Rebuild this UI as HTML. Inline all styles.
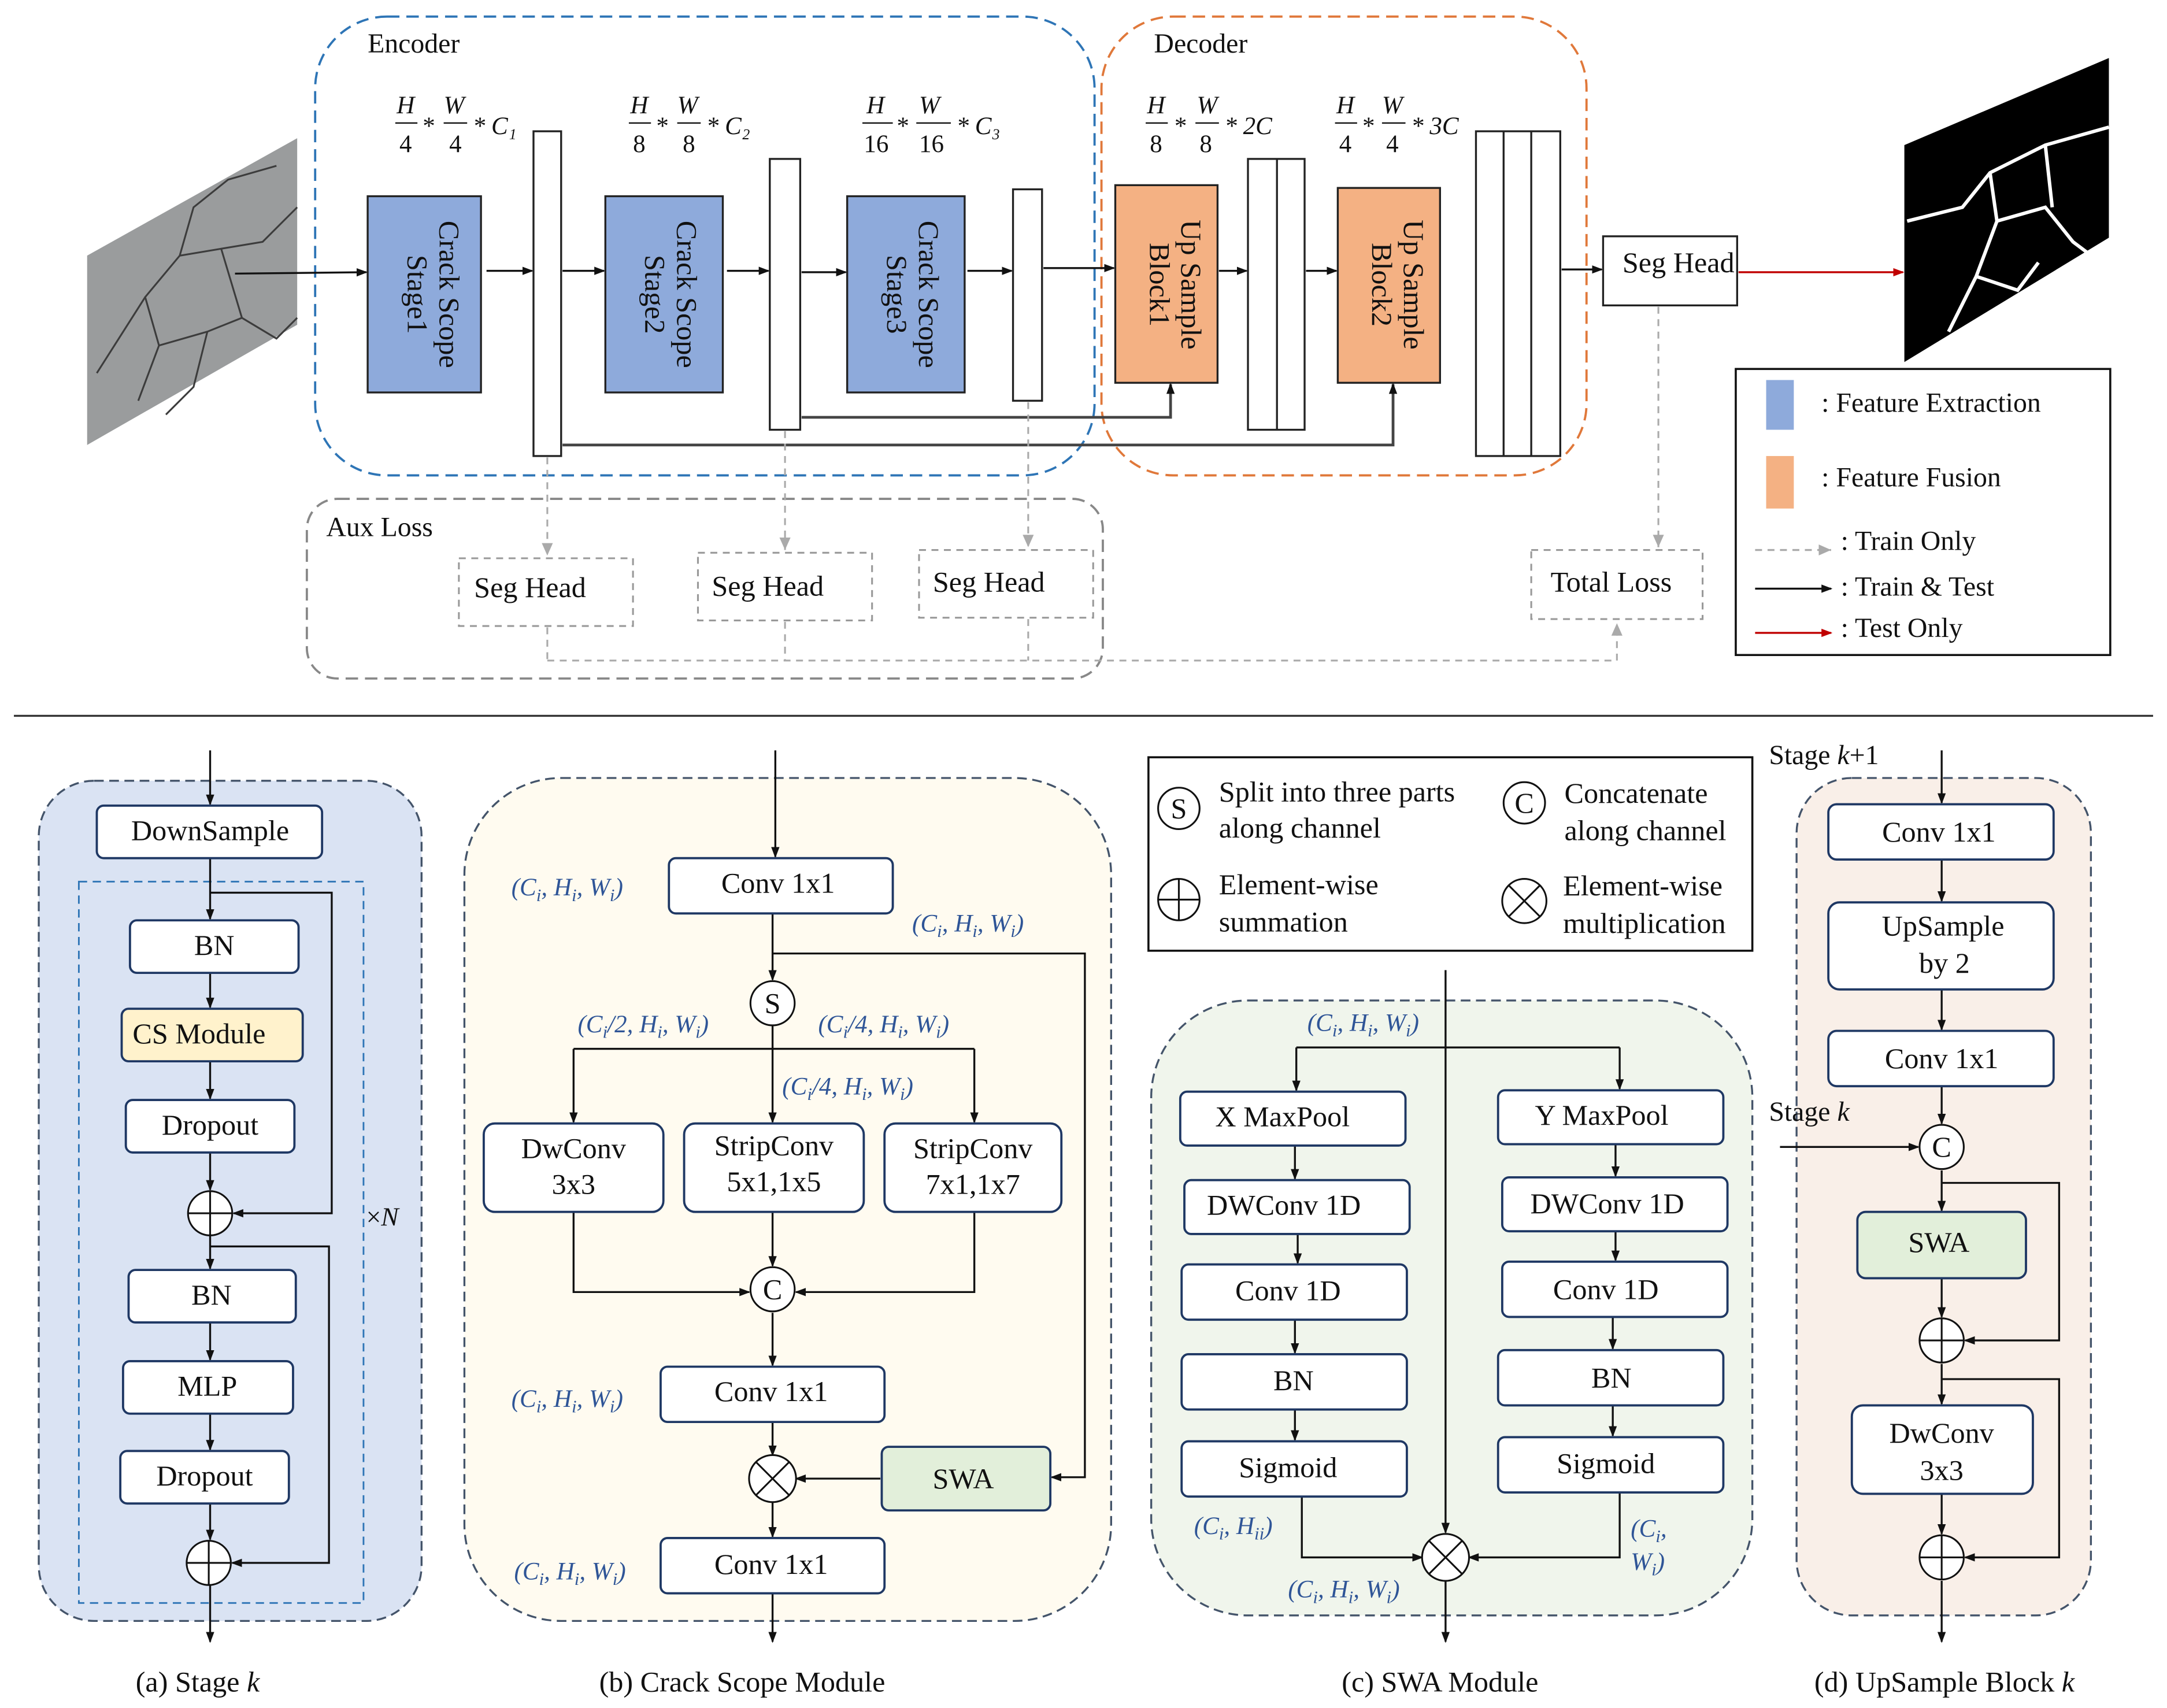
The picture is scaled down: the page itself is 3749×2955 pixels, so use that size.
<!DOCTYPE html>
<html><head><meta charset="utf-8"><style>
html,body{margin:0;padding:0;background:#fff}
svg{display:block}
text{font-family:"Liberation Serif",serif;fill:#111}
.b{fill:#fff;stroke:#1f3864;stroke-width:1.6}
.l{stroke:#111;stroke-width:1.4;fill:none}
.bl{font-style:italic;font-size:18px}
.bl text{fill:#2f5597}
</style></head><body>
<svg width="3749" height="2955" viewBox="0 0 1568 1236" xmlns="http://www.w3.org/2000/svg">
<defs>
<marker id="a" markerWidth="8" markerHeight="8" refX="7" refY="4" orient="auto" markerUnits="userSpaceOnUse"><path d="M0,1 L8,4 L0,7z" fill="#111"/></marker>
<marker id="g" markerWidth="10" markerHeight="10" refX="9" refY="5" orient="auto" markerUnits="userSpaceOnUse"><path d="M0,1 L9,5 L0,9z" fill="#aaa"/></marker>
<marker id="r" markerWidth="8" markerHeight="8" refX="7" refY="4" orient="auto" markerUnits="userSpaceOnUse"><path d="M0,1 L8,4 L0,7z" fill="#c00000"/></marker>
</defs>
<rect width="1568" height="1236" fill="#fff"/>

<!-- input crack image -->
<polygon points="63,185 215,100 215,235 63,322" fill="#9a9c9d"/>
<g stroke="#3c3c3c" stroke-width="1.3" fill="none">
<path d="M100,290 L115,250 L105,215 L130,185 L160,180 L190,175 L215,150"/>
<path d="M130,185 L140,150 L165,130 L200,120"/>
<path d="M115,250 L150,240 L175,230 L200,245 L215,230"/>
<path d="M150,240 L140,280 L120,300"/>
<path d="M160,180 L175,230"/>
<path d="M70,270 L105,215"/>
</g>

<!-- encoder / decoder -->
<rect x="228" y="12" width="564" height="332" rx="52" fill="none" stroke="#2e75b6" stroke-width="1.6" stroke-dasharray="9,5"/>
<rect x="797" y="12" width="351" height="332" rx="52" fill="none" stroke="#e0783a" stroke-width="1.6" stroke-dasharray="9,5"/>
<text x="266" y="38" font-size="20">Encoder</text>
<text x="835" y="38" font-size="20">Decoder</text>

<!-- size labels -->
<g font-size="18" font-style="italic">
<text x="287" y="82">H</text><text x="321" y="82">W</text>
<line x1="286" y1="89" x2="302" y2="89" stroke="#111"/><line x1="321" y1="89" x2="338" y2="89" stroke="#111"/>
<text x="289" y="110" font-style="normal">4</text><text x="325" y="110" font-style="normal">4</text>
<text x="305" y="97">*</text><text x="342" y="97">* C₁</text>
<text x="456" y="82">H</text><text x="490" y="82">W</text>
<line x1="455" y1="89" x2="471" y2="89" stroke="#111"/><line x1="490" y1="89" x2="507" y2="89" stroke="#111"/>
<text x="458" y="110" font-style="normal">8</text><text x="494" y="110" font-style="normal">8</text>
<text x="474" y="97">*</text><text x="511" y="97">* C₂</text>
<text x="627" y="82">H</text><text x="665" y="82">W</text>
<line x1="624" y1="89" x2="646" y2="89" stroke="#111"/><line x1="663" y1="89" x2="688" y2="89" stroke="#111"/>
<text x="625" y="110" font-style="normal">16</text><text x="665" y="110" font-style="normal">16</text>
<text x="648" y="97">*</text><text x="692" y="97">* C₃</text>
<text x="830" y="82">H</text><text x="866" y="82">W</text>
<line x1="829" y1="89" x2="845" y2="89" stroke="#111"/><line x1="865" y1="89" x2="882" y2="89" stroke="#111"/>
<text x="832" y="110" font-style="normal">8</text><text x="868" y="110" font-style="normal">8</text>
<text x="849" y="97">*</text><text x="886" y="97">* 2C</text>
<text x="967" y="82">H</text><text x="1000" y="82">W</text>
<line x1="966" y1="89" x2="982" y2="89" stroke="#111"/><line x1="1000" y1="89" x2="1017" y2="89" stroke="#111"/>
<text x="969" y="110" font-style="normal">4</text><text x="1003" y="110" font-style="normal">4</text>
<text x="985" y="97">*</text><text x="1021" y="97">* 3C</text>
</g>

<!-- stages -->
<g stroke="#222" stroke-width="1.4">
<rect x="266" y="142" width="82" height="142" fill="#8eaadb"/>
<rect x="438" y="142" width="85" height="142" fill="#8eaadb"/>
<rect x="613" y="142" width="85" height="142" fill="#8eaadb"/>
<rect x="807" y="134" width="74" height="143" fill="#f4b183"/>
<rect x="968" y="136" width="74" height="141" fill="#f4b183"/>
<rect x="386" y="95" width="20" height="235" fill="#fff"/>
<rect x="557" y="115" width="22" height="196" fill="#fff"/>
<rect x="733" y="137" width="21" height="153" fill="#fff"/>
<rect x="903" y="115" width="41" height="196" fill="#fff"/>
<line x1="924" y1="115" x2="924" y2="311"/>
<rect x="1068" y="95" width="61" height="235" fill="#fff"/>
<line x1="1088" y1="95" x2="1088" y2="330"/><line x1="1108" y1="95" x2="1108" y2="330"/>
<rect x="1160" y="171" width="97" height="50" fill="#fff"/>
</g>
<g font-size="21">
<text transform="translate(318,213) rotate(90)" text-anchor="middle">Crack Scope</text>
<text transform="translate(295,213) rotate(90)" text-anchor="middle">Stage1</text>
<text transform="translate(490,213) rotate(90)" text-anchor="middle">Crack Scope</text>
<text transform="translate(467,213) rotate(90)" text-anchor="middle">Stage2</text>
<text transform="translate(665,213) rotate(90)" text-anchor="middle">Crack Scope</text>
<text transform="translate(642,213) rotate(90)" text-anchor="middle">Stage3</text>
<text transform="translate(855,206) rotate(90)" text-anchor="middle">Up Sample</text>
<text transform="translate(832,206) rotate(90)" text-anchor="middle">Block1</text>
<text transform="translate(1016,206) rotate(90)" text-anchor="middle">Up Sample</text>
<text transform="translate(993,206) rotate(90)" text-anchor="middle">Block2</text>
<text x="1174" y="197">Seg Head</text>
</g>
<g class="l" marker-end="url(#a)">
<line x1="170" y1="198" x2="265" y2="197"/>
<line x1="352" y1="196" x2="385" y2="196"/>
<line x1="407" y1="196" x2="437" y2="196"/>
<line x1="526" y1="196" x2="556" y2="196"/>
<line x1="580" y1="197" x2="612" y2="197"/>
<line x1="700" y1="196" x2="732" y2="196"/>
<line x1="755" y1="194" x2="806" y2="194"/>
<line x1="882" y1="196" x2="902" y2="196"/>
<line x1="945" y1="196" x2="967" y2="196"/>
<line x1="1130" y1="195" x2="1159" y2="195"/>
<polyline points="580,302 847,302 847,278" stroke="#444" stroke-width="2"/>
<polyline points="407,322 1008,322 1008,278" stroke="#444" stroke-width="2"/>
</g>
<line x1="1258" y1="197" x2="1377" y2="197" stroke="#c00000" stroke-width="1.4" marker-end="url(#r)"/>

<!-- output mask -->
<polygon points="1378,105 1526,42 1526,172 1378,262" fill="#000"/>
<g stroke="#fff" stroke-width="2.5" fill="none">
<path d="M1380,160 L1420,150 L1440,125 L1480,105 L1526,92"/>
<path d="M1440,125 L1445,160 L1430,200 L1410,240"/>
<path d="M1445,160 L1480,150 L1500,175 L1520,190"/>
<path d="M1480,105 L1485,150"/>
<path d="M1430,200 L1460,210 L1475,190"/>
</g>

<!-- legend -->
<rect x="1256" y="267" width="271" height="207" fill="#fff" stroke="#111" stroke-width="1.5"/>
<rect x="1278" y="275" width="20" height="36" fill="#8eaadb"/>
<rect x="1278" y="330" width="20" height="38" fill="#f4b183"/>
<g font-size="20">
<text x="1318" y="298">: Feature Extraction</text>
<text x="1318" y="352">: Feature Fusion</text>
<text x="1332" y="398">: Train Only</text>
<text x="1332" y="431">: Train &amp; Test</text>
<text x="1332" y="461">: Test Only</text>
</g>
<line x1="1270" y1="398" x2="1325" y2="398" stroke="#aaa" stroke-width="1.4" stroke-dasharray="5,4" marker-end="url(#g)"/>
<line x1="1270" y1="426" x2="1325" y2="426" class="l" marker-end="url(#a)"/>
<line x1="1270" y1="458" x2="1325" y2="458" stroke="#c00000" stroke-width="1.4" marker-end="url(#r)"/>

<!-- aux loss -->
<rect x="222" y="361" width="576" height="130" rx="22" fill="none" stroke="#888" stroke-width="1.6" stroke-dasharray="9,5"/>
<text x="236" y="388" font-size="20">Aux Loss</text>
<g fill="#fff" stroke="#999" stroke-width="1.3" stroke-dasharray="5,4">
<rect x="332" y="404" width="126" height="49"/>
<rect x="505" y="400" width="126" height="49"/>
<rect x="665" y="398" width="126" height="49"/>
<rect x="1108" y="398" width="124" height="50"/>
</g>
<g font-size="21">
<text x="343" y="432">Seg Head</text>
<text x="515" y="431">Seg Head</text>
<text x="675" y="428">Seg Head</text>
<text x="1122" y="428">Total Loss</text>
</g>
<g stroke="#aaa" stroke-width="1.3" stroke-dasharray="5,4" fill="none">
<line x1="396" y1="331" x2="396" y2="402" marker-end="url(#g)"/>
<line x1="568" y1="312" x2="568" y2="398" marker-end="url(#g)"/>
<line x1="744" y1="291" x2="744" y2="396" marker-end="url(#g)"/>
<line x1="1200" y1="222" x2="1200" y2="396" marker-end="url(#g)"/>
<line x1="396" y1="454" x2="396" y2="478"/>
<line x1="568" y1="450" x2="568" y2="478"/>
<line x1="744" y1="448" x2="744" y2="478"/>
<polyline points="396,478 1170,478 1170,451" marker-end="url(#g)"/>
</g>

<line x1="10" y1="518" x2="1558" y2="518" stroke="#333" stroke-width="1.4"/>

<!-- (a) -->
<rect x="28" y="565" width="277" height="608" rx="40" fill="#dae3f3" stroke="#44546a" stroke-width="1.4" stroke-dasharray="7,4"/>
<rect x="57" y="638" width="206" height="522" fill="none" stroke="#2e75b6" stroke-width="1.2" stroke-dasharray="6,4"/>
<g class="l" marker-end="url(#a)">
<line x1="152" y1="543" x2="152" y2="582"/>
<line x1="152" y1="621" x2="152" y2="665"/>
<line x1="152" y1="704" x2="152" y2="729"/>
<line x1="152" y1="768" x2="152" y2="795"/>
<line x1="152" y1="834" x2="152" y2="861"/>
<line x1="152" y1="894" x2="152" y2="918"/>
<line x1="152" y1="957" x2="152" y2="984"/>
<line x1="152" y1="1023" x2="152" y2="1049"/>
<line x1="152" y1="1088" x2="152" y2="1114"/>
<line x1="152" y1="1147" x2="152" y2="1188"/>
<polyline points="152,646 240,646 240,878 169,878"/>
<polyline points="152,902 238,902 238,1131 168,1131"/>
</g>
<g class="b">
<rect x="70" y="583" width="163" height="38" rx="5"/>
<rect x="94" y="666" width="122" height="38" rx="5"/>
<rect x="88" y="730" width="131" height="38" rx="5" fill="#fff2cc"/>
<rect x="91" y="796" width="122" height="38" rx="5"/>
<rect x="93" y="919" width="121" height="38" rx="5"/>
<rect x="89" y="985" width="123" height="38" rx="5"/>
<rect x="87" y="1050" width="122" height="38" rx="5"/>
</g>
<g fill="#fff" stroke="#111" stroke-width="1.3">
<circle cx="152" cy="878" r="16"/><line x1="136" y1="878" x2="168" y2="878"/><line x1="152" y1="862" x2="152" y2="894"/>
<circle cx="151" cy="1131" r="16"/><line x1="135" y1="1131" x2="167" y2="1131"/><line x1="151" y1="1115" x2="151" y2="1147"/>
</g>
<g font-size="21" text-anchor="middle">
<text x="152" y="608">DownSample</text>
<text x="155" y="691">BN</text>
<text x="144" y="755">CS Module</text>
<text x="152" y="821">Dropout</text>
<text x="153" y="944">BN</text>
<text x="150" y="1010">MLP</text>
<text x="148" y="1075">Dropout</text>
<text x="143" y="1224">(a) Stage <tspan font-style="italic">k</tspan></text>
<text x="537" y="1224">(b) Crack Scope Module</text>
<text x="1042" y="1224">(c) SWA Module</text>
<text x="1407" y="1224">(d) UpSample Block <tspan font-style="italic">k</tspan></text>
</g>
<text x="265" y="887" font-size="19">×<tspan font-style="italic">N</tspan></text>

<!-- (b) -->
<rect x="336" y="563" width="468" height="610" rx="70" fill="#fffbf0" stroke="#44546a" stroke-width="1.4" stroke-dasharray="7,4"/>
<g class="l" marker-end="url(#a)">
<line x1="561" y1="543" x2="561" y2="620"/>
<line x1="559" y1="661" x2="559" y2="709"/>
<polyline points="559,690 785,690 785,1069 761,1069"/>
<polyline points="415,759 415,812"/>
<polyline points="559,742 559,812"/>
<polyline points="705,759 705,812"/>
<polyline points="415,877 415,935 542,935"/>
<polyline points="705,877 705,935 576,935"/>
<line x1="559" y1="877" x2="559" y2="916"/>
<line x1="559" y1="950" x2="559" y2="988"/>
<line x1="559" y1="1029" x2="559" y2="1053"/>
<line x1="637" y1="1070" x2="576" y2="1070"/>
<line x1="559" y1="1087" x2="559" y2="1112"/>
<line x1="559" y1="1153" x2="559" y2="1188"/>
</g>
<line x1="415" y1="759" x2="705" y2="759" class="l"/>
<g class="b">
<rect x="484" y="621" width="162" height="40" rx="5"/>
<rect x="350" y="813" width="130" height="64" rx="8"/>
<rect x="495" y="813" width="130" height="64" rx="8"/>
<rect x="640" y="813" width="128" height="64" rx="8"/>
<rect x="478" y="989" width="162" height="40" rx="5"/>
<rect x="638" y="1047" width="122" height="46" rx="5" fill="#e2efda"/>
<rect x="478" y="1113" width="162" height="40" rx="5"/>
</g>
<g fill="#fff" stroke="#111" stroke-width="1.3">
<circle cx="559" cy="726" r="16"/>
<circle cx="559" cy="933" r="16"/>
<circle cx="559" cy="1070" r="17"/><line x1="547" y1="1058" x2="571" y2="1082"/><line x1="571" y1="1058" x2="547" y2="1082"/>
</g>
<g font-size="21" text-anchor="middle">
<text x="559" y="733">S</text><text x="559" y="940">C</text>
<text x="563" y="646">Conv 1x1</text>
<text x="415" y="838">DwConv</text><text x="415" y="864">3x3</text>
<text x="560" y="836">StripConv</text><text x="560" y="862">5x1,1x5</text>
<text x="704" y="838">StripConv</text><text x="704" y="864">7x1,1x7</text>
<text x="558" y="1014">Conv 1x1</text>
<text x="697" y="1077">SWA</text>
<text x="558" y="1139">Conv 1x1</text>
</g>

<!-- (c) legend -->
<rect x="831" y="548" width="437" height="140" fill="#fff" stroke="#111" stroke-width="1.5"/>
<g fill="#fff" stroke="#111" stroke-width="1.3">
<circle cx="853" cy="585" r="15"/>
<circle cx="1103" cy="581" r="15"/>
<circle cx="853" cy="651" r="15"/><line x1="838" y1="651" x2="868" y2="651"/><line x1="853" y1="636" x2="853" y2="666"/>
<circle cx="1103" cy="652" r="16"/><line x1="1092" y1="641" x2="1114" y2="663"/><line x1="1114" y1="641" x2="1092" y2="663"/>
</g>
<g font-size="21">
<text x="853" y="592" text-anchor="middle">S</text>
<text x="1103" y="588" text-anchor="middle">C</text>
<text x="882" y="580">Split into three parts</text>
<text x="882" y="606">along channel</text>
<text x="1132" y="581">Concatenate</text>
<text x="1132" y="608">along channel</text>
<text x="882" y="647">Element-wise</text>
<text x="882" y="674">summation</text>
<text x="1131" y="648">Element-wise</text>
<text x="1131" y="675">multiplication</text>
</g>

<!-- (c) panel -->
<rect x="833" y="724" width="435" height="445" rx="70" fill="#f0f5ec" stroke="#44546a" stroke-width="1.4" stroke-dasharray="7,4"/>
<g class="l" marker-end="url(#a)">
<line x1="1046" y1="702" x2="1046" y2="1109"/>
<line x1="938" y1="758" x2="938" y2="789"/>
<line x1="1172" y1="758" x2="1172" y2="788"/>
<line x1="937" y1="829" x2="937" y2="853"/><line x1="939" y1="893" x2="939" y2="914"/><line x1="937" y1="955" x2="937" y2="979"/><line x1="937" y1="1020" x2="937" y2="1042"/>
<line x1="1169" y1="828" x2="1169" y2="851"/><line x1="1169" y1="891" x2="1169" y2="912"/><line x1="1167" y1="953" x2="1167" y2="976"/><line x1="1167" y1="1017" x2="1167" y2="1039"/>
<polyline points="942,1083 942,1127 1029,1127"/>
<polyline points="1172,1080 1172,1127 1063,1127"/>
<line x1="1046" y1="1144" x2="1046" y2="1188"/>
</g>
<line x1="938" y1="758" x2="1172" y2="758" class="l"/>
<g class="b">
<rect x="854" y="790" width="163" height="39" rx="5"/>
<rect x="857" y="854" width="163" height="39" rx="5"/>
<rect x="855" y="915" width="163" height="40" rx="5"/>
<rect x="855" y="980" width="163" height="40" rx="5"/>
<rect x="855" y="1043" width="163" height="40" rx="5"/>
<rect x="1084" y="789" width="163" height="39" rx="5"/>
<rect x="1087" y="852" width="163" height="39" rx="5"/>
<rect x="1087" y="913" width="163" height="40" rx="5"/>
<rect x="1084" y="977" width="163" height="40" rx="5"/>
<rect x="1084" y="1040" width="163" height="40" rx="5"/>
</g>
<g fill="#fff" stroke="#111" stroke-width="1.3">
<circle cx="1046" cy="1127" r="17"/><line x1="1034" y1="1115" x2="1058" y2="1139"/><line x1="1058" y1="1115" x2="1034" y2="1139"/>
</g>
<g font-size="21" text-anchor="middle">
<text x="928" y="815">X MaxPool</text>
<text x="929" y="879">DWConv 1D</text>
<text x="932" y="941">Conv 1D</text>
<text x="936" y="1006">BN</text>
<text x="932" y="1069">Sigmoid</text>
<text x="1159" y="814">Y MaxPool</text>
<text x="1163" y="878">DWConv 1D</text>
<text x="1162" y="940">Conv 1D</text>
<text x="1166" y="1004">BN</text>
<text x="1162" y="1066">Sigmoid</text>
</g>

<!-- blue labels -->
<g class="bl">
<text x="370" y="648">(C<tspan font-size="13" dy="4">i</tspan><tspan dy="-4">, H</tspan><tspan font-size="13" dy="4">i</tspan><tspan dy="-4">, W</tspan><tspan font-size="13" dy="4">i</tspan><tspan dy="-4">)</tspan></text>
<text x="660" y="674">(C<tspan font-size="13" dy="4">i</tspan><tspan dy="-4">, H</tspan><tspan font-size="13" dy="4">i</tspan><tspan dy="-4">, W</tspan><tspan font-size="13" dy="4">i</tspan><tspan dy="-4">)</tspan></text>
<text x="418" y="747">(C<tspan font-size="13" dy="4">i</tspan><tspan dy="-4">/2, H</tspan><tspan font-size="13" dy="4">i</tspan><tspan dy="-4">, W</tspan><tspan font-size="13" dy="4">i</tspan><tspan dy="-4">)</tspan></text>
<text x="592" y="747">(C<tspan font-size="13" dy="4">i</tspan><tspan dy="-4">/4, H</tspan><tspan font-size="13" dy="4">i</tspan><tspan dy="-4">, W</tspan><tspan font-size="13" dy="4">i</tspan><tspan dy="-4">)</tspan></text>
<text x="566" y="792">(C<tspan font-size="13" dy="4">i</tspan><tspan dy="-4">/4, H</tspan><tspan font-size="13" dy="4">i</tspan><tspan dy="-4">, W</tspan><tspan font-size="13" dy="4">i</tspan><tspan dy="-4">)</tspan></text>
<text x="370" y="1018">(C<tspan font-size="13" dy="4">i</tspan><tspan dy="-4">, H</tspan><tspan font-size="13" dy="4">i</tspan><tspan dy="-4">, W</tspan><tspan font-size="13" dy="4">i</tspan><tspan dy="-4">)</tspan></text>
<text x="372" y="1143">(C<tspan font-size="13" dy="4">i</tspan><tspan dy="-4">, H</tspan><tspan font-size="13" dy="4">i</tspan><tspan dy="-4">, W</tspan><tspan font-size="13" dy="4">i</tspan><tspan dy="-4">)</tspan></text>
<text x="946" y="746">(C<tspan font-size="13" dy="4">i</tspan><tspan dy="-4">, H</tspan><tspan font-size="13" dy="4">i</tspan><tspan dy="-4">, W</tspan><tspan font-size="13" dy="4">i</tspan><tspan dy="-4">)</tspan></text>
<text x="864" y="1110">(C<tspan font-size="13" dy="4">i</tspan><tspan dy="-4">, H</tspan><tspan font-size="13" dy="4">ii</tspan><tspan dy="-4">)</tspan></text>
<text x="932" y="1156">(C<tspan font-size="13" dy="4">i</tspan><tspan dy="-4">, H</tspan><tspan font-size="13" dy="4">i</tspan><tspan dy="-4">, W</tspan><tspan font-size="13" dy="4">i</tspan><tspan dy="-4">)</tspan></text>
<text x="1180" y="1112">(C<tspan font-size="13" dy="4">i</tspan><tspan dy="-4">,</tspan></text>
<text x="1180" y="1136">W<tspan font-size="13" dy="4">i</tspan><tspan dy="-4">)</tspan></text>
</g>

<!-- (d) -->
<rect x="1300" y="563" width="213" height="606" rx="40" fill="#f9efe8" stroke="#44546a" stroke-width="1.4" stroke-dasharray="7,4"/>
<g class="l" marker-end="url(#a)">
<line x1="1405" y1="543" x2="1405" y2="581"/>
<line x1="1405" y1="622" x2="1405" y2="652"/>
<line x1="1405" y1="716" x2="1405" y2="745"/>
<line x1="1405" y1="786" x2="1405" y2="813"/>
<line x1="1288" y1="830" x2="1388" y2="830"/>
<line x1="1405" y1="847" x2="1405" y2="876"/>
<line x1="1405" y1="925" x2="1405" y2="953"/>
<line x1="1405" y1="987" x2="1405" y2="1016"/>
<line x1="1405" y1="1081" x2="1405" y2="1110"/>
<line x1="1405" y1="1144" x2="1405" y2="1188"/>
<polyline points="1405,856 1490,856 1490,970 1422,970"/>
<polyline points="1405,998 1490,998 1490,1127 1422,1127"/>
</g>
<g class="b">
<rect x="1323" y="582" width="163" height="40" rx="6"/>
<rect x="1323" y="653" width="163" height="63" rx="8"/>
<rect x="1323" y="746" width="163" height="40" rx="6"/>
<rect x="1344" y="877" width="122" height="48" rx="6" fill="#e2efda"/>
<rect x="1340" y="1017" width="131" height="64" rx="8"/>
</g>
<g fill="#fff" stroke="#111" stroke-width="1.3">
<circle cx="1405" cy="830" r="16"/>
<circle cx="1405" cy="970" r="16"/><line x1="1389" y1="970" x2="1421" y2="970"/><line x1="1405" y1="954" x2="1405" y2="986"/>
<circle cx="1405" cy="1127" r="16"/><line x1="1389" y1="1127" x2="1421" y2="1127"/><line x1="1405" y1="1111" x2="1405" y2="1143"/>
</g>
<g font-size="21" text-anchor="middle">
<text x="1405" y="837">C</text>
<text x="1403" y="609">Conv 1x1</text>
<text x="1406" y="677">UpSample</text><text x="1407" y="704">by 2</text>
<text x="1405" y="773">Conv 1x1</text>
<text x="1403" y="906">SWA</text>
<text x="1405" y="1044">DwConv</text><text x="1405" y="1071">3x3</text>
</g>
<g font-size="20">
<text x="1280" y="553">Stage <tspan font-style="italic">k</tspan>+1</text>
<text x="1280" y="811">Stage <tspan font-style="italic">k</tspan></text>
</g>
</svg>
</body></html>
